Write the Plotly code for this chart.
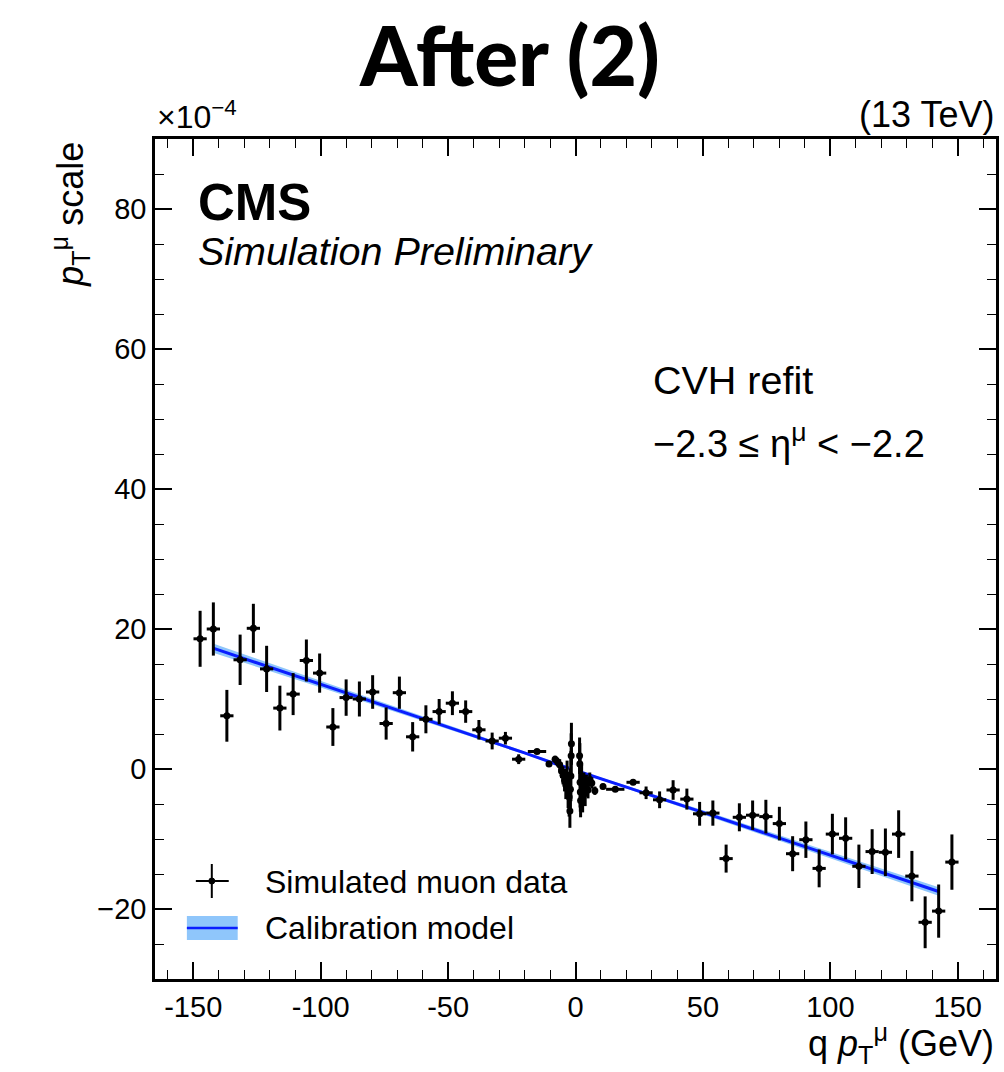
import plotly.graph_objects as go

# ---- binned simulated muon data (scale in units of 1e-4) ----
qpt = [-147.3, -142.1, -136.8, -131.6, -126.4, -121.2, -116.0, -110.8, -105.6, -100.4,
       -95.2, -90.0, -84.8, -79.6, -74.3, -69.1, -63.9, -58.7, -53.5, -48.3,
       -43.1, -37.9, -32.7, -27.5, -22.3, -15.1, -10.4,
       -8.0, -7.0, -6.2, -5.5, -4.9, -4.3, -3.8, -3.3, -2.9, -2.5, -2.2, -2.0, -1.8, -1.7, -1.6,
       1.6, 1.7, 1.8, 1.9, 2.0, 2.4, 2.8, 3.3, 3.8, 4.3, 4.9, 5.6, 6.4, 7.6,
       10.8, 15.6, 22.6, 27.7, 33.0, 38.3, 43.7, 48.7, 53.9, 59.1,
       64.3, 69.5, 74.7, 80.0, 85.2, 90.4, 95.6, 100.8, 106.0, 111.2,
       116.4, 121.6, 126.8, 132.0, 137.2, 142.5, 147.7]
qpt_halfwidth = [2.6] * 25 + [3.6, 1.0] + [0.3] * 15 + [0.3] * 13 + [0.6] + [1.0, 3.6] + [2.6] * 26
scale = [18.6, 20.0, 7.6, 15.6, 20.1, 14.3, 8.7, 10.7, 15.5, 13.7,
         6.0, 10.2, 10.0, 11.0, 6.5, 10.9, 4.6, 7.1, 8.2, 9.4,
         8.2, 5.6, 4.0, 4.4, 1.4, 2.5, 0.7,
         1.4, 1.0, 0.6, -0.3, -0.9, -1.6, -2.3, -1.2, -3.0, -4.0, -6.0, -2.9, -1.0, 1.9, 3.6,
         1.9, 0.7, -1.9, -3.3, -4.5, -2.0, -3.8, -2.6, -3.5, -2.3, -3.0, -1.5, -2.0, -3.1,
         -2.5, -2.9, -1.9, -3.4, -4.4, -3.0, -4.3, -6.4, -6.3, -12.8,
         -6.9, -6.6, -6.8, -7.8, -12.1, -10.1, -14.2, -9.3, -9.9, -13.9,
         -11.8, -11.9, -9.3, -15.3, -21.9, -20.3, -13.3]
scale_err = [4.0, 3.8, 3.7, 3.6, 3.5, 3.3, 3.2, 3.0, 3.0, 2.8,
             2.7, 2.6, 2.5, 2.4, 2.3, 2.3, 2.1, 2.0, 1.8, 1.7,
             1.6, 1.4, 1.2, 0.9, 0.7, 0.3, 0.4,
             0.5, 0.6, 0.8, 1.0, 1.3, 1.6, 2.0, 2.4, 2.6, 2.8, 2.4, 3.0, 3.6, 3.2, 3.0,
             2.6, 3.0, 3.6, 2.8, 2.4, 2.6, 2.4, 2.1, 1.8, 1.5, 1.2, 1.0, 0.8, 0.6,
             0.4, 0.3, 0.4, 0.9, 1.2, 1.4, 1.5, 1.7, 1.8, 2.0,
             2.0, 2.1, 2.4, 2.4, 2.5, 2.6, 2.7, 2.9, 3.0, 3.1,
             3.2, 3.4, 3.4, 3.6, 3.7, 3.8, 3.95]

# ---- calibration model (negative and positive charge branches) ----
model_neg_x = [-142.5, -100.0, -50.0, -20.0, -6.0, -2.5]
model_neg_y = [17.3, 12.1, 6.0, 2.3, 0.5, 0.1]
model_neg_err = [0.65, 0.45, 0.3, 0.2, 0.15, 0.15]
model_pos_x = [2.5, 6.0, 20.0, 50.0, 100.0, 142.5]
model_pos_y = [-0.5, -0.9, -2.6, -6.2, -12.3, -17.5]
model_pos_err = [0.15, 0.15, 0.2, 0.3, 0.45, 0.6]

x_ticks = [-150, -100, -50, 0, 50, 100, 150]
x_ticktext = ["-150", "-100", "-50", "0", "50", "100", "150"]
y_ticks = [-20, 0, 20, 40, 60, 80]

# ---- canvas geometry (pixels) ----
W, H = 1004, 1072
L, R, T, B = 155, 999, 139, 979
BAND = "#8fc6fb"
LINE = "#0a1eff"
FONT = "Liberation Sans"


def px(xp):
    return (xp - L) / (R - L)


def py(yp):
    return (B - yp) / (B - T)


fig = go.Figure()

for mx, my, me in [(model_neg_x, model_neg_y, model_neg_err),
                   (model_pos_x, model_pos_y, model_pos_err)]:
    upper = [v + e for v, e in zip(my, me)]
    lower = [v - e for v, e in zip(my, me)]
    fig.add_trace(go.Scatter(
        x=mx + mx[::-1], y=upper + lower[::-1], fill="toself",
        fillcolor=BAND, line=dict(width=0), mode="lines",
        hoverinfo="skip", showlegend=False))
    fig.add_trace(go.Scatter(
        x=mx, y=my, mode="lines", line=dict(color=LINE, width=3),
        showlegend=False))

fig.add_trace(go.Scatter(
    x=qpt, y=scale, mode="markers",
    marker=dict(color="black", size=7),
    error_y=dict(type="data", array=scale_err, color="black", thickness=3, width=0),
    error_x=dict(type="data", array=qpt_halfwidth, color="black", thickness=3, width=0),
    showlegend=False))

axis_common = dict(
    showline=True, linecolor="black", linewidth=2.5, mirror="allticks",
    ticks="inside", ticklen=17, tickwidth=1.5, tickcolor="black",
    showgrid=False, zeroline=False,
    tickfont=dict(family=FONT, size=29, color="black"),
)

fig.update_xaxes(
    range=[-165, 165], tickvals=x_ticks, ticktext=x_ticktext,
    minor=dict(dtick=10, ticklen=9, tickwidth=1.2, tickcolor="black", ticks="inside"),
    **axis_common)
fig.update_yaxes(
    range=[-30, 90], tickvals=y_ticks,
    minor=dict(dtick=5, ticklen=9, tickwidth=1.2, tickcolor="black", ticks="inside"),
    **axis_common)


def text(s, x, y, size, xanchor="left", yanchor="middle", angle=0, **font):
    fig.add_annotation(
        text=s, x=px(x), y=py(y), xref="paper", yref="paper",
        xanchor=xanchor, yanchor=yanchor, showarrow=False, textangle=angle,
        font=dict(family=font.pop("family", FONT), size=size, color="black", **font))


text("After (2)", 511, 54, 82, xanchor="center", family="Lato", weight=900)
text("×10<sup>−4</sup>", 155, 137, 32, yanchor="bottom")
text("(13 TeV)", 999, 137, 36, xanchor="right", yanchor="bottom")
text("<b>CMS</b>", 196, 203, 51)
text("<i>Simulation Preliminary</i>", 196, 251, 39.5)
text("CVH refit", 653, 380, 39.5)
text("−2.3 ≤ η<sup>μ</sup> < −2.2", 653, 441, 38)
text("Simulated muon data", 263, 882, 32)
text("Calibration model", 263, 928, 32)
text("<i>p</i><sub>T</sub><sup>μ</sup> scale", 70, 140, 36, xanchor="center", yanchor="top", angle=-90)
text("q <i>p</i><sub>T</sub><sup>μ</sup> (GeV)", 999, 1043, 36, xanchor="right")

# legend glyphs
shapes = [
    dict(type="line", x0=px(196), x1=px(229), y0=py(881), y1=py(881),
         line=dict(color="black", width=2)),
    dict(type="line", x0=px(212), x1=px(212), y0=py(864), y1=py(898),
         line=dict(color="black", width=2)),
    dict(type="circle", x0=px(209), x1=px(215), y0=py(884), y1=py(878),
         fillcolor="black", line=dict(color="black", width=1)),
    dict(type="rect", x0=px(187), x1=px(238), y0=py(940), y1=py(916),
         fillcolor=BAND, line=dict(width=0)),
    dict(type="line", x0=px(187), x1=px(238), y0=py(928), y1=py(928),
         line=dict(color=LINE, width=2.5)),
]
for s in shapes:
    fig.add_shape(xref="paper", yref="paper", **s)

fig.update_layout(
    width=W, height=H, margin=dict(l=L, r=W - R, t=T, b=H - B),
    paper_bgcolor="white", plot_bgcolor="white", showlegend=False,
)

fig.write_html("out.html")
